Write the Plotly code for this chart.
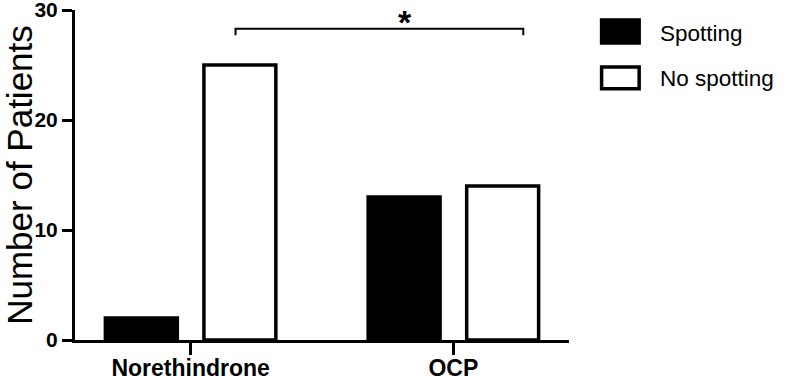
import plotly.graph_objects as go

categories = ["Norethindrone", "OCP"]
spotting = [2, 13]
no_spotting = [25, 14]
y_ticks = [0, 10, 20, 30]
series_names = ["Spotting", "No spotting"]
y_title = "Number of Patients"
sig_label = "*"

FONT = "Liberation Sans, Arial, sans-serif"

fig = go.Figure()
fig.add_trace(go.Bar(x=categories, y=spotting, name=series_names[0],
                     marker=dict(color="black", line=dict(color="black", width=3.5)),
                     showlegend=False))
fig.add_trace(go.Bar(x=categories, y=no_spotting, name=series_names[1],
                     marker=dict(color="white", line=dict(color="black", width=3.5)),
                     showlegend=False))

# significance bracket
bx0, bx1, by, bdrop = 0.171, 1.266, 28.3, 0.6
fig.add_shape(type="path",
              path=f"M {bx0},{by-bdrop} L {bx0},{by} L {bx1},{by} L {bx1},{by-bdrop}",
              xref="x", yref="y", line=dict(color="black", width=2))
fig.add_annotation(x=0.817, y=by, xref="x", yref="y", text=sig_label,
                   showarrow=False, yanchor="bottom", yshift=-14,
                   font=dict(family=FONT, size=34, color="black", weight="bold"))

# custom legend
leg = [
    (series_names[0], "black", 0.970, 0.900, 0.930),
    (series_names[1], "white", 0.827, 0.761, 0.793),
]
for name, fill, y0, y1, ym in leg:
    fig.add_shape(type="rect", xref="paper", yref="paper",
                  x0=1.066, x1=1.142, y0=y1, y1=y0,
                  fillcolor=fill, line=dict(color="black", width=3.5))
    fig.add_annotation(x=1.18, y=ym, xref="paper", yref="paper", text=name,
                       showarrow=False, xanchor="left", yanchor="middle",
                       font=dict(family=FONT, size=22.5, color="black"))

fig.update_layout(
    width=787, height=376,
    margin=dict(l=75, r=218, t=10, b=36, autoexpand=False),
    paper_bgcolor="white", plot_bgcolor="white",
    barmode="group", bargap=0.25, bargroupgap=0.27,
    font=dict(family=FONT, color="black"),
    xaxis=dict(type="category", range=[-0.44, 1.44], showline=True, linewidth=3,
               linecolor="black", ticks="outside", ticklen=12, tickwidth=3,
               tickcolor="black", showgrid=False, zeroline=False, automargin=False,
               ticklabelstandoff=-7, ticklabeloverflow="allow",
               tickfont=dict(family=FONT, size=23, color="black", weight="bold")),
    yaxis=dict(range=[0, 30.0001], tickvals=y_ticks, showline=True, linewidth=3,
               linecolor="black", ticks="outside", ticklen=10, tickwidth=3,
               tickcolor="black", showgrid=False, zeroline=False, automargin=False,
               ticklabeloverflow="allow",
               tickfont=dict(family=FONT, size=21, color="black", weight="bold"),
               title=dict(text=y_title, standoff=6,
                          font=dict(family=FONT, size=35, color="black"))),
)

fig.write_html("out.html", config={"displayModeBar": False},
               post_script="document.body.style.margin='0';document.body.style.overflow='hidden';")
